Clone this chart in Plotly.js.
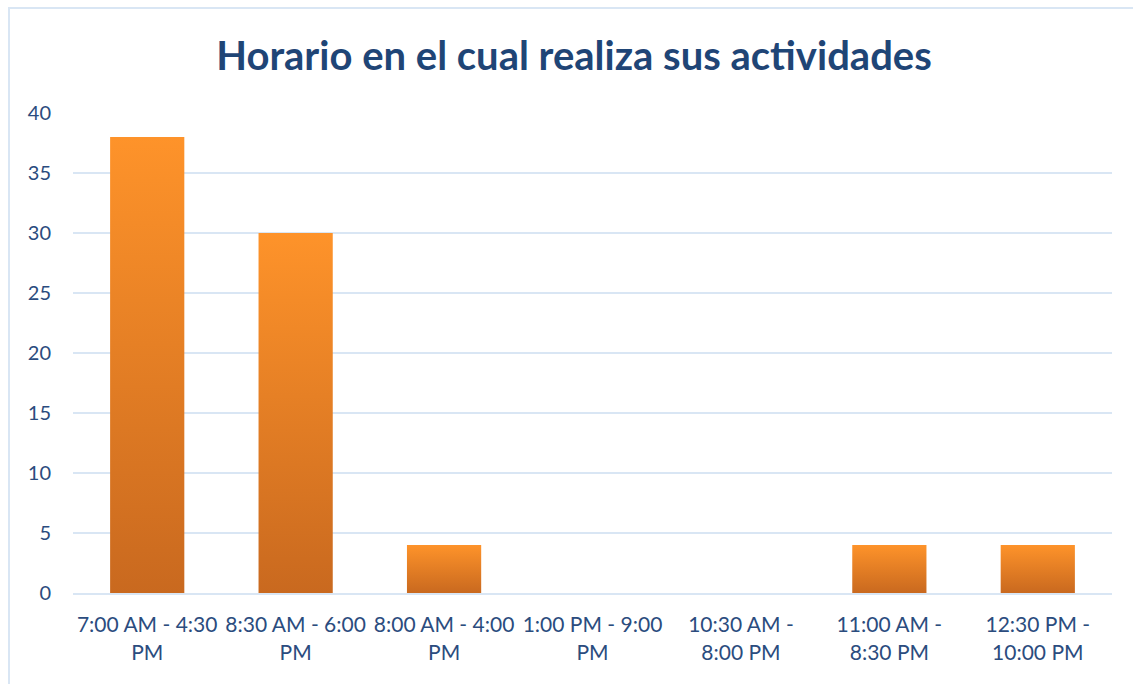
<!DOCTYPE html>
<html>
<head>
<meta charset="utf-8">
<script src="https://cdn.plot.ly/plotly-3.0.1.min.js"></script>
<style>
  html, body { margin: 0; padding: 0; background: #fff; }
  #wrap { position: relative; width: 1133px; height: 684px; overflow: hidden; }
  #frame { position: absolute; left: 8px; top: 7px; width: 1140px; height: 700px;
           border: 2px solid #D9E6F4; box-sizing: border-box; pointer-events: none; }
  #chart { position: absolute; left: 0; top: 0; width: 1133px; height: 684px; }
</style>
</head>
<body>
<div id="wrap">
  <div id="chart"></div>
  <div id="frame"></div>
</div>
<svg width="0" height="0" style="position:absolute">
  <defs>
    <linearGradient id="barGrad" x1="0" y1="0" x2="0" y2="1">
      <stop offset="0%" stop-color="#FE932A"/>
      <stop offset="100%" stop-color="#C9691F"/>
    </linearGradient>
  </defs>
</svg>
<script>
const categories = [
  "7:00 AM - 4:30<br>PM",
  "8:30 AM - 6:00<br>PM",
  "8:00 AM - 4:00<br>PM",
  "1:00 PM - 9:00<br>PM",
  "10:30 AM -<br>8:00 PM",
  "11:00 AM -<br>8:30 PM",
  "12:30 PM -<br>10:00 PM"
];
const values = [38, 30, 4, 0, 0, 4, 4];
const yTicks = [0, 5, 10, 15, 20, 25, 30, 35, 40];
const titleText = "Horario en el cual realiza sus actividades";

const textColor = "#2B4C7E";

const trace = {
  type: "bar",
  x: categories,
  y: values,
  width: 0.5,
  marker: { color: "#EC8629", line: { width: 0 } },
  hoverinfo: "x+y"
};

const layout = {
  width: 1133,
  height: 684,
  paper_bgcolor: "rgba(0,0,0,0)",
  plot_bgcolor: "rgba(0,0,0,0)",
  margin: { l: 73, r: 21, t: 113, b: 91 },
  showlegend: false,
  title: {
    text: "<b>" + titleText + "</b>",
    x: 574 / 1133, xanchor: "center",
    y: 0.918, yanchor: "middle",
    xref: "container",
    font: { family: "Lato, 'Open Sans', sans-serif", size: 40, color: "#1F4576" }
  },
  xaxis: {
    type: "category",
    tickfont: { family: "Lato, 'Open Sans', sans-serif", size: 21, color: textColor },
    showgrid: false,
    showline: true,
    linecolor: "#D9E6F4",
    linewidth: 2,
    ticks: "",
    ticklen: 0,
    zeroline: false,
    ticklabelstandoff: 12
  },
  yaxis: {
    range: [0, 40],
    tickvals: yTicks,
    ticktext: yTicks.map(String),
    tickfont: { family: "Lato, 'Open Sans', sans-serif", size: 20, color: textColor },
    showgrid: true,
    gridcolor: "#D9E6F4",
    gridwidth: 2,
    zeroline: false,
    showline: false,
    ticks: "",
    ticklabelstandoff: 21
  },
  bargap: 0.5
};

Plotly.newPlot("chart", [trace], layout, { displayModeBar: false, staticPlot: true }).then(function (gd) {
  const paths = gd.querySelectorAll(".barlayer .point path");
  paths.forEach(function (p) { p.style.fill = "url(#barGrad)"; });
});
</script>
</body>
</html>
